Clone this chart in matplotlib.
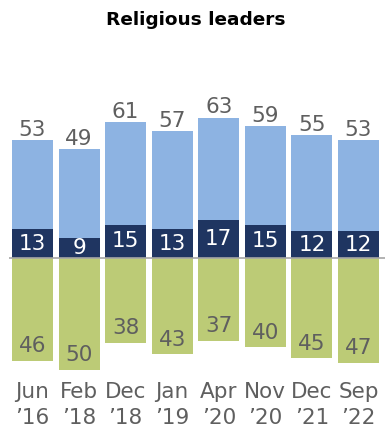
import numpy as np
import matplotlib.pyplot as plt

# Survey waves and shares (percent)
waves = ["Jun\n’16", "Feb\n’18", "Dec\n’18", "Jan\n’19", "Apr\n’20", "Nov\n’20", "Dec\n’21", "Sep\n’22"]
total_pos = [53, 49, 61, 57, 63, 59, 55, 53]
strong_pos = [13, 9, 15, 13, 17, 15, 12, 12]
total_neg = [46, 50, 38, 43, 37, 40, 45, 47]

light_blue = "#8DB3E2"
navy = "#1F3561"
green = "#BCCB76"
gray_txt = "#5F5F5F"

W, H = 385, 430
fig = plt.figure(figsize=(W / 100, H / 100), dpi=100)

# axes placed in pixel terms: zero line at y=258 px from top, ~2.23 px per point
px_per_unit = 2.23
ax_top, ax_bot = 95, 372
ax_left, ax_right = 9, 385
ax = fig.add_axes([ax_left / W, 1 - ax_bot / H, (ax_right - ax_left) / W, (ax_bot - ax_top) / H])

x = np.arange(len(waves))
pitch = 46.57
center0 = 32.5
ax.set_xlim((ax_left - center0) / pitch, (ax_right - center0) / pitch)
ax.set_ylim(-(ax_bot - 258) / px_per_unit, (258 - ax_top) / px_per_unit)

width = 41 / pitch
pos = np.array(total_pos)
strong = np.array(strong_pos)
neg = np.array(total_neg)

ax.bar(x, strong, width, color=navy, zorder=2)
ax.bar(x, pos - strong, width, bottom=strong, color=light_blue, zorder=2)
ax.bar(x, -neg, width, color=green, zorder=2)
ax.axhline(0, color="#A6A6A6", lw=1.2, zorder=3)

fs = 15.5
for i in range(len(waves)):
    ax.annotate(str(pos[i]), (x[i], pos[i]), xytext=(0, 3), textcoords="offset points",
                ha="center", va="baseline", fontsize=fs, color=gray_txt)
    ax.text(x[i], strong[i] / 2, str(strong[i]), ha="center", va="center",
            fontsize=fs, color="white", zorder=4)
    ax.annotate(str(neg[i]), (x[i], -neg[i]), xytext=(0, 6), textcoords="offset points",
                ha="center", va="baseline", fontsize=fs, color=gray_txt, zorder=4)

ax.set_xticks(x)
ax.set_xticklabels(waves, fontsize=fs, color=gray_txt)
for t in ax.get_xticklabels():
    t.set_linespacing(1.4)
ax.tick_params(axis="x", length=0, pad=7)
ax.set_yticks([])
for s in ax.spines.values():
    s.set_visible(False)

fig.text(196 / W, 1 - 20 / H, "Religious leaders", ha="center", va="center",
         fontsize=13.3, fontweight="bold", color="black")

fig.savefig("out.png", dpi=100)
